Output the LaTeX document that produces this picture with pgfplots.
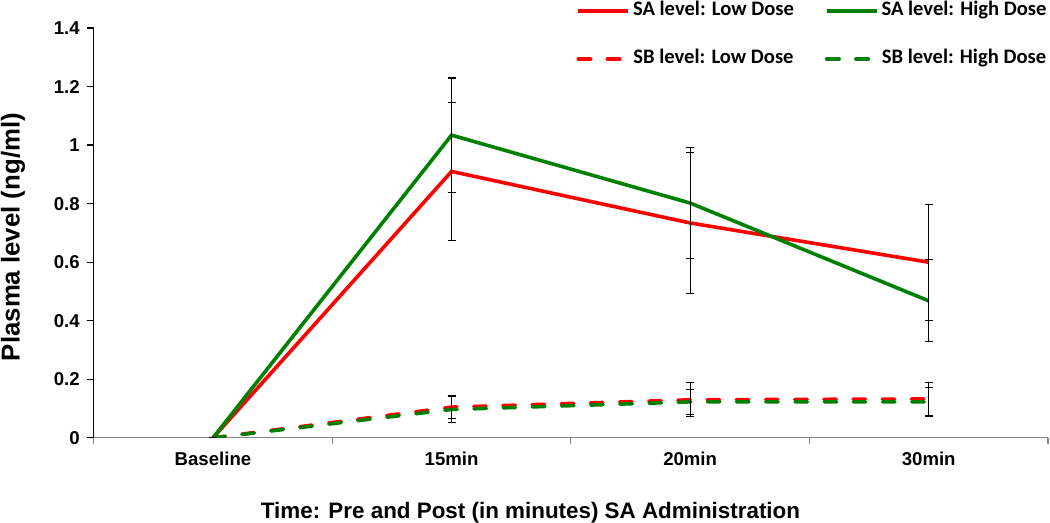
\documentclass[border=0pt]{standalone}
\usepackage{fontspec}
\setmainfont{Liberation Sans}
\newfontfamily\legfont{Carlito}
\usepackage{pgfplots}
\pgfplotsset{compat=1.18}
\definecolor{sared}{RGB}{255,0,0}
\definecolor{sagreen}{RGB}{0,128,0}
\definecolor{axgray}{RGB}{134,134,134}

\begin{document}
\begin{tikzpicture}
\begin{axis}[
    name=ax,
    scale only axis,
    width=477.3pt, height=205pt,
    xmin=-0.5, xmax=3.5,
    ymin=0, ymax=1.4,
    axis lines=left,
    axis line style={-},
    x axis line style={draw=axgray, line width=0.6pt},
    y axis line style={draw=black, line width=0.6pt},
    tick align=outside,
    xtick={0,1,2,3},
    xticklabels={Baseline,15min,20min,30min},
    major x tick style={draw=none},
    minor xtick={-0.5,0.5,1.5,2.5,3.5},
    minor x tick style={draw=axgray, line width=0.6pt},
    minor tick length=3pt,
    ytick={0,0.2,0.4,0.6,0.8,1,1.2,1.4},
    ytick style={draw=black, line width=0.6pt},
    major tick length=3.5pt,
    /pgf/number format/assume math mode=true,
    tick label style={font=\bfseries\fontsize{9.3}{11}\selectfont},
    yticklabel style={/pgf/number format/fixed},
    xlabel={Time: Pre and Post (in minutes) SA Administration},
    ylabel={Plasma level (ng/ml)},
    xlabel style={font=\bfseries\fontsize{11.2}{13}\selectfont, at={(axis description cs:0.4577,0)}, anchor=center, yshift=-37.5pt},
    ylabel style={font=\bfseries\fontsize{12.9}{15}\selectfont, at={(axis description cs:0,0.49)}, anchor=center, yshift=40.35pt},
    legend columns=2,
    legend style={at={(axis description cs:0.5055,1)}, anchor=north west, yshift=13.2pt,
        draw=none, fill=none, inner sep=0pt,
        font=\legfont\bfseries\fontsize{10.3}{12}\selectfont,
        row sep=15pt,
        nodes={inner sep=0pt, text height=7pt, text depth=2pt},
        /tikz/every odd column/.append style={column sep=1.5pt},
        /tikz/every even column/.append style={column sep=15.5pt}},
    legend image code/.code={\draw[#1] (0pt,0pt) -- (25pt,0pt);},
    error bars/y dir=both,
    error bars/y explicit,
    error bars/error bar style={black, line width=0.6pt, solid},
    error bars/error mark options={black, mark size=2pt, line width=0.6pt, solid, rotate=90},
]
% SA level: Low Dose
\addplot[sared, line width=1.8pt, no markers] coordinates {
    (0,0) +- (0,0)
    (1,0.910) +- (0,0.235)
    (2,0.734) +- (0,0.242)
    (3,0.600) +- (0,0.198)
};
\addlegendentry{SA level: Low Dose}
% SA level: High Dose
\addplot[sagreen, line width=1.8pt, no markers] coordinates {
    (0,0) +- (0,0)
    (1,1.034) +- (0,0.195)
    (2,0.802) +- (0,0.190)
    (3,0.468) +- (0,0.140)
};
\addlegendentry{SA level: High Dose}
% SB level: Low Dose
\addplot[sared, line width=1.8pt, no markers, dash pattern=on 6.2pt off 8.4pt, line cap=round] coordinates {
    (0,0) +- (0,0)
    (1,0.105) +- (0,0.040)
    (2,0.130) +- (0,0.058)
    (3,0.133) +- (0,0.057)
};
\addlegendentry{SB level: Low Dose}
% SB level: High Dose
\addplot[sagreen, line width=1.8pt, no markers, dash pattern=on 6.2pt off 8.4pt, line cap=round] coordinates {
    (0,0) +- (0,0)
    (1,0.097) +- (0,0.045)
    (2,0.123) +- (0,0.043)
    (3,0.123) +- (0,0.048)
};
\addlegendentry{SB level: High Dose}
\end{axis}
\pgfresetboundingbox
\path ([shift={(-46.85pt,-42.5pt)}]ax.south west) rectangle ([shift={(1pt,14pt)}]ax.north east);
\end{tikzpicture}
\end{document}
